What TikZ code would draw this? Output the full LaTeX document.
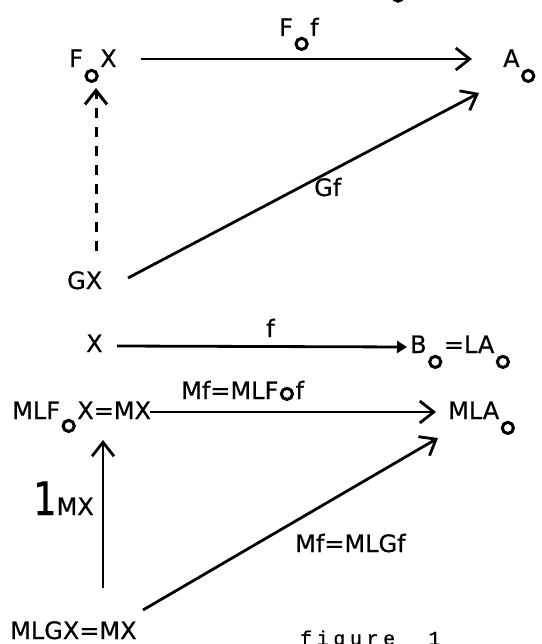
\documentclass[tikz,border=0pt]{standalone}
\usepackage{fontspec}
\setmainfont{DejaVu Sans}[FakeBold=0.6]
\newfontfamily\twfont{Liberation Mono}[LetterSpace=23,FakeBold=0.6]
\usetikzlibrary{arrows.meta,calc}
\newcommand\ring[1]{\hspace{1.5pt}\raisebox{-#1}{\tikz\draw[line width=3pt] (0pt,0pt) circle[radius=5.6pt];}\hspace{1.5pt}}
\begin{document}
\begin{tikzpicture}[x=1pt,y=-1pt,
  lbl/.style={inner sep=0pt, anchor=base west, font=\fontsize{24}{26}\selectfont},
  arr/.style={line width=2.8pt, -{Straight Barb[length=14pt,width=22pt]}},
  arrs/.style={line width=2.8pt, -{Triangle[length=10pt,width=12pt]}},
  dsh/.style={line width=3pt, dash pattern=on 10pt off 9pt, -{Straight Barb[length=14pt,width=22pt]}}]
\useasboundingbox (0,0) rectangle (541,644);
% partial mark at the top edge
\draw[line width=2.5pt] (398,-4) circle (5.5);
% upper triangle
\node[lbl] (FX) at (69,67) {F\ring{16pt}X};
\node[lbl] (A) at (503,67) {A\ring{16pt}};
\node[lbl] (Fof) at (279,36) {F\ring{15pt}f};
\node[lbl] (GX) at (67,289) {GX};
\node[lbl] (Gf) at (314,196) {Gf};
\draw[arr] ($(FX.base west)+(72,-8)$) -- ($(A.base west)+(-31,-8)$);
\draw[dsh] ($(GX.base west)+(29,-38)$) -- ($(FX.base west)+(27,21)$);
\draw[arr] ($(GX.base west)+(61,-11)$) -- ($(A.base west)+(-24,26)$);
% middle
\node[lbl] (X) at (86,352) {X};
\node[lbl] (f) at (266,337) {f};
\node[lbl] (B) at (410,353) {B\ring{16pt}=LA\ring{16pt}};
\draw[arrs] ($(X.base west)+(31,-6)$) -- ($(B.base west)+(-3,-6)$);
% lower triangle
\node[lbl] (MLF) at (12,419) {MLF\ring{14pt}X=MX};
\node[lbl] (MLA) at (448,419) {MLA\ring{16pt}};
\node[lbl] (Mf1) at (181,399) {Mf=MLF\ring{2pt}f};
\node[lbl] (one) at (33,515) {\scalebox{0.8}[1]{\fontsize{46}{46}\selectfont 1}MX};
\node[lbl] (Mf2) at (295,552) {Mf=MLGf};
\node[lbl] (MLGX) at (10,639) {MLGX=MX};
\draw[arr] ($(MLF.base west)+(138,-7)$) -- ($(MLA.base west)+(-12,-7)$);
\draw[arr] ($(MLGX.base west)+(93,-51)$) -- ($(MLF.base west)+(91,21)$);
\draw[arr] ($(MLGX.base west)+(133,-29)$) -- ($(MLA.base west)+(-10,19)$);
\node[inner sep=0pt, anchor=base west, font=\twfont\fontsize{20}{22}\selectfont] (fig) at (300,645) {figure\ \ 1};
\end{tikzpicture}
\end{document}
